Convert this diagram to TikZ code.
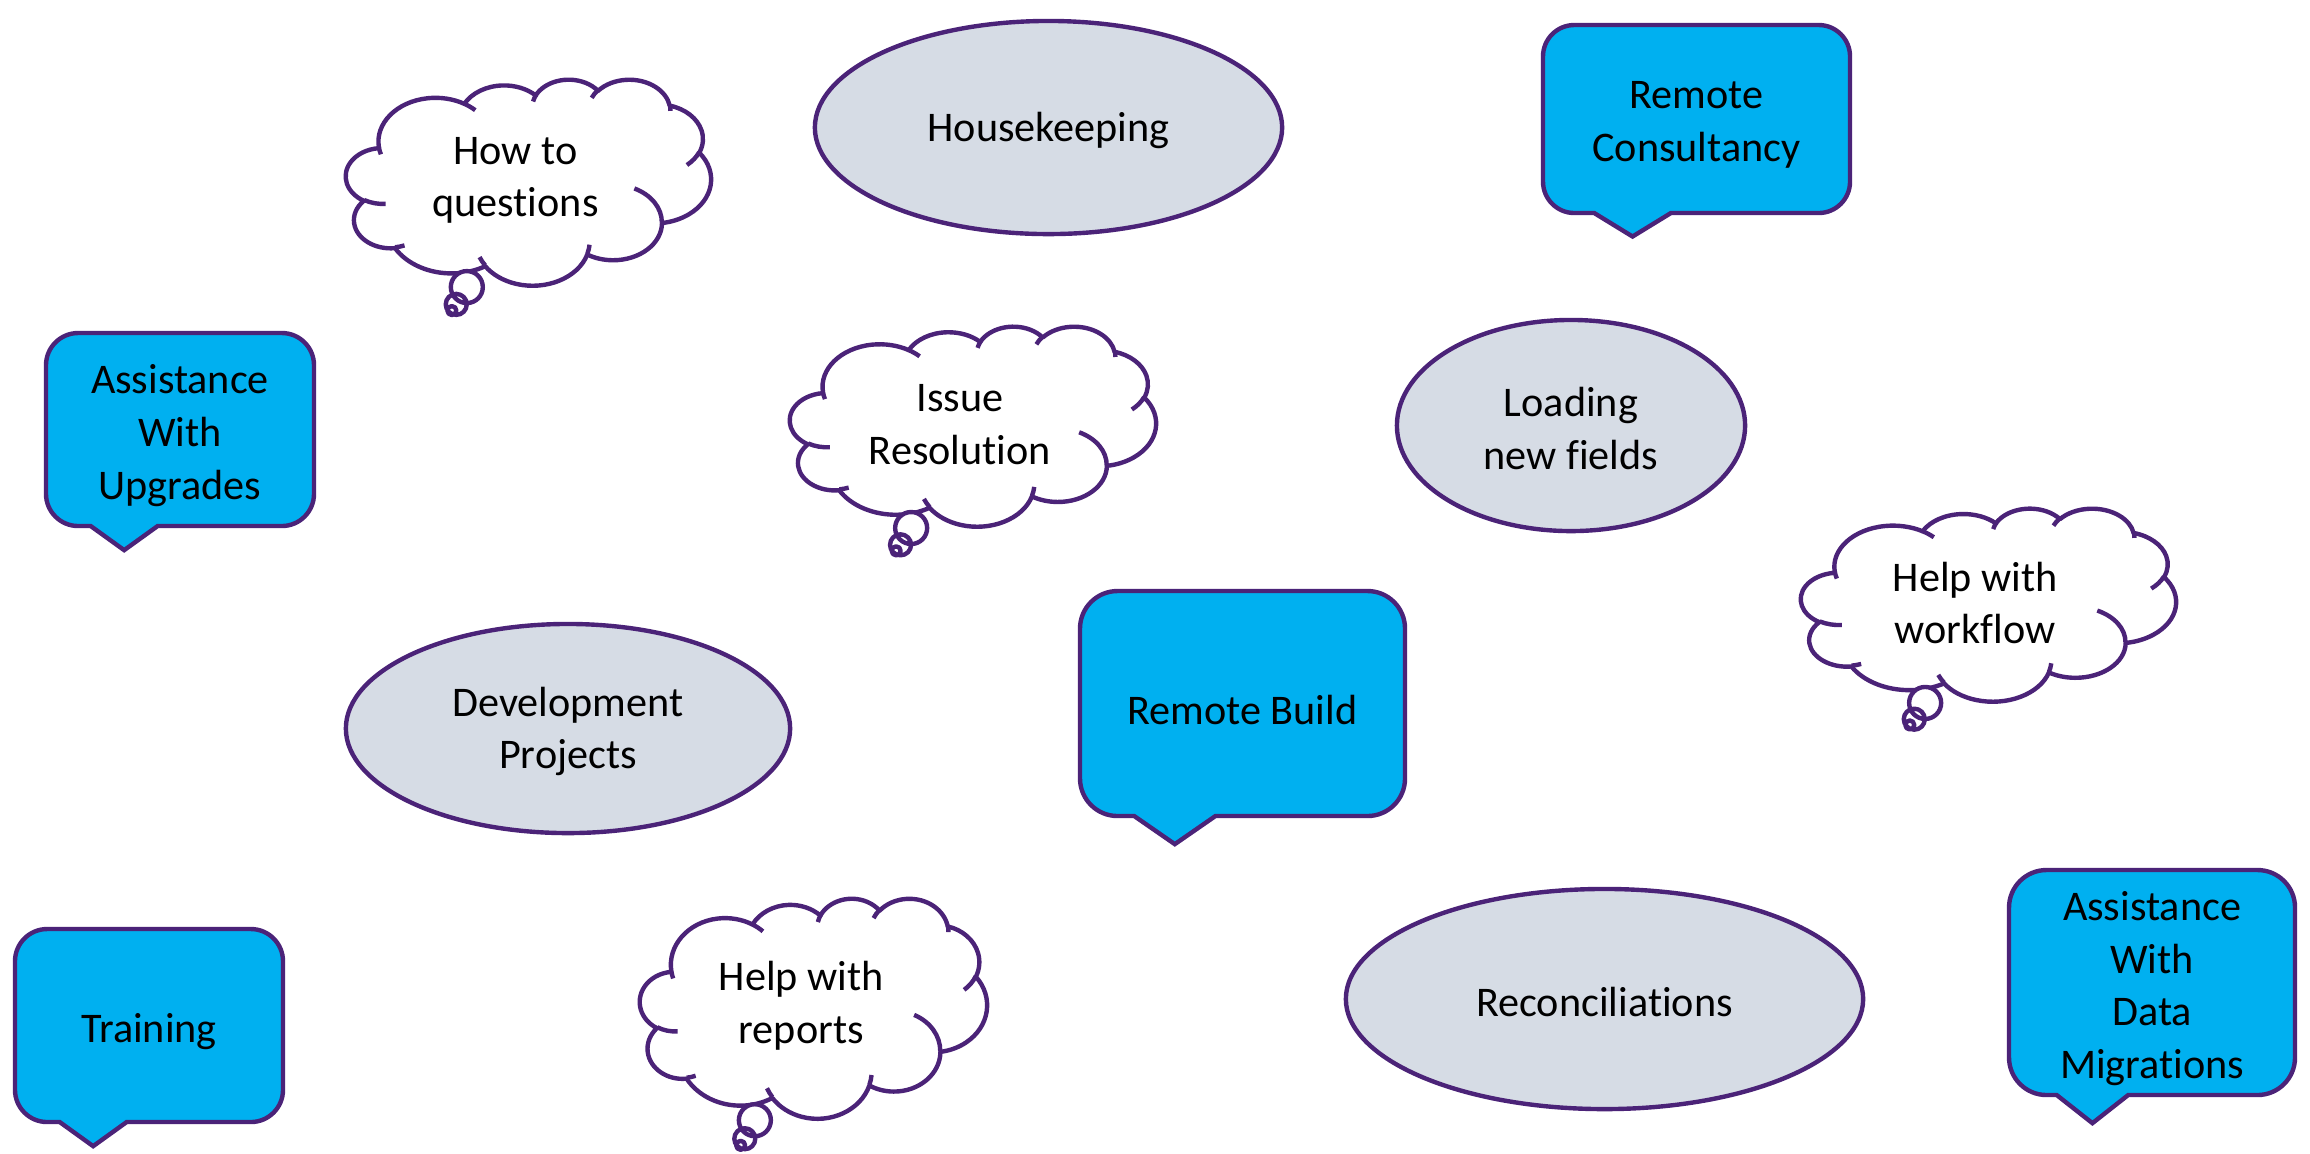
\documentclass[tikz,border=0pt]{standalone}
\usepackage{fontspec}
\setmainfont{Carlito}[Ligatures=NoCommon]
\usetikzlibrary{shapes.geometric}
\definecolor{edgecol}{RGB}{75,35,120}
\definecolor{callfill}{RGB}{0,176,240}
\definecolor{ellfill}{RGB}{214,220,229}
\makeatletter
\newcommand\addarc[5]{%
  \pgfmathsetmacro\cl@s{atan2(sin(#4)/(#3),cos(#4)/(#2))}%
  \pgfmathsetmacro\cl@t{atan2(sin(#4+#5)/(#3),cos(#4+#5)/(#2))}%
  \pgfmathsetmacro\cl@e{(#5>0)*(\cl@t+360*(\cl@t<\cl@s))+(#5<0)*(\cl@t-360*(\cl@t>\cl@s))}%
  \xdef#1{#1\space arc[start angle=\cl@s,end angle=\cl@e,x radius=#2,y radius=#3]}%
}
\makeatother
\newcommand\cloudpathA{}
\newcommand\cloudpathB{}
\xdef\cloudpathA{(0.39,1.437)}
\addarc\cloudpathA{0.6753}{0.9190}{-190.48748}{123.78053}
\addarc\cloudpathA{0.5333}{0.7267}{-144.10238}{89.94523}
\addarc\cloudpathA{0.4365}{0.5945}{-145.80792}{99.72302}
\addarc\cloudpathA{0.4857}{0.6595}{-130.98607}{117.24173}
\addarc\cloudpathA{0.5333}{0.7273}{-78.70888}{109.02692}
\addarc\cloudpathA{0.6775}{0.9220}{-46.26725}{130.269}
\addarc\cloudpathA{0.5785}{0.7867}{0.62502}{114.03333}
\addarc\cloudpathA{0.6752}{0.9215}{22.4516}{115.17255}
\addarc\cloudpathA{0.7720}{1.0543}{66.24263}{75.71102}
\addarc\cloudpathA{0.4360}{0.5918}{-274.94208}{146.73557}
\addarc\cloudpathA{0.4345}{0.5945}{-246.8285}{152.51885}
\xdef\cloudpathA{\cloudpathA\space -- cycle}
\xdef\cloudpathB{(0.4693,2.6177)}
\addarc\cloudpathB{0.4345}{0.5945}{86.742}{26.4295}
\xdef\cloudpathB{\cloudpathB\space (0.6928,3.4899)}
\addarc\cloudpathB{0.4360}{0.5918}{73.61047}{11.44747}
\xdef\cloudpathB{\cloudpathB\space (1.6478,3.9090)}
\addarc\cloudpathB{0.6752}{0.9215}{137.62415}{14.0811}
\xdef\cloudpathB{\cloudpathB\space (2.8827,3.4751)}
\addarc\cloudpathB{0.6752}{0.9215}{6.45327}{15.99835}
\xdef\cloudpathB{\cloudpathB\space (3.4129,2.2954)}
\addarc\cloudpathB{0.5785}{0.7867}{-70.29235}{70.91737}
\xdef\cloudpathB{\cloudpathB\space (4.1798,1.5354)}
\addarc\cloudpathB{0.5333}{0.7273}{30.31803}{27.7515}
\xdef\cloudpathB{\cloudpathB\space (3.8324,0.5426)}
\addarc\cloudpathB{0.4857}{0.6595}{-13.74433}{14.8589}
\xdef\cloudpathB{\cloudpathB\space (2.9078,0.3952)}
\addarc\cloudpathB{0.4857}{0.6595}{-149.18145}{18.19537}
\xdef\cloudpathB{\cloudpathB\space (2.2141,0.4720)}
\addarc\cloudpathB{0.4365}{0.5945}{-163.49427}{17.68635}
\xdef\cloudpathB{\cloudpathB\space (1.4000,0.5192)}
\addarc\cloudpathB{0.6753}{0.9190}{-66.70695}{12.31935}
\xdef\cloudpathB{\cloudpathB\space (0.4127,1.5789)}
\addarc\cloudpathB{0.6753}{0.9190}{157.65435}{11.85817}

\tikzset{
  txt/.style={font=\fontsize{12}{15}\selectfont, align=center, text=black, inner sep=0pt},
  edgeline/.style={draw=edgecol, line width=1.25pt},
  cloudline/.style={draw=edgecol, line width=1.25pt, line join=round},
  callbox/.style={edgeline, fill=callfill, line join=miter},
  ellnode/.style={ellipse, edgeline, fill=ellfill, inner sep=0pt, txt},
}

% #1 name, #2 x0, #3 y0, #4 W, #5 H, #6 text
\newcommand\mycloud[6]{%
  \begin{scope}[shift={(#2,#3)},xscale=#4/4.32,yscale=#5/4.32]
    \filldraw[cloudline,fill=white] \cloudpathA;
    \draw[cloudline] \cloudpathB;
  \end{scope}
  \fill[white] ({#2+0.331*#4},{#3+1.01*#5}) circle[radius=16]
               ({#2+0.302*#4},{#3+1.094*#5}) circle[radius=10.5]
               ({#2+0.29*#4},{#3+1.124*#5}) circle[radius=4.5];
  \draw[cloudline] ({#2+0.331*#4},{#3+1.01*#5}) circle[radius=16]
               ({#2+0.302*#4},{#3+1.094*#5}) circle[radius=10.5]
               ({#2+0.29*#4},{#3+1.124*#5}) circle[radius=4.5];
  \node[txt] (#1) at ({#2+0.4644*#4},{#3+0.4768*#5+3}) {#6};
}

% #1 name, #2 x0, #3 y0, #4 W, #5 H, #6 text
\newcommand\mycallout[6]{%
  \pgfmathsetmacro\crad{0.16667*min(#4,#5)}%
  \draw[callbox] ({#2+#4/6},{#3+#5}) -- ({#2+0.29167*#4},{#3+1.125*#5})
    -- ({#2+5*#4/12},{#3+#5}) -- ({#2+#4-\crad},{#3+#5})
    arc[start angle=90,end angle=0,radius=\crad] -- ({#2+#4},{#3+\crad})
    arc[start angle=0,end angle=-90,radius=\crad] -- ({#2+\crad},{#3})
    arc[start angle=-90,end angle=-180,radius=\crad] -- ({#2},{#3+#5-\crad})
    arc[start angle=180,end angle=90,radius=\crad] -- cycle;
  \node[txt] (#1) at ({#2+#4/2},{#3+#5/2+6}) {#6};
}

\begin{document}
\begin{tikzpicture}[x=0.01cm, y=-0.01cm]
\useasboundingbox (0,0) rectangle (2310,1153);
\fill[white] (0,0) rectangle (2310,1153);

% ellipses
\node[ellnode, minimum width=4.67cm, minimum height=2.13cm] (hk) at (1048.5,127.5) {};
\node[txt] (hkt) at (1048.5,130.5) {Housekeeping};
\node[ellnode, minimum width=3.48cm, minimum height=2.11cm] (load) at (1571,425.5) {};
\node[txt] (loadt) at (1571,428.5) {Loading\\new fields};
\node[ellnode, minimum width=4.44cm, minimum height=2.09cm] (dev) at (568,728.5) {};
\node[txt] (devt) at (568,731.5) {Development\\Projects};
\node[ellnode, minimum width=5.17cm, minimum height=2.20cm] (rec) at (1604.5,999) {};
\node[txt] (rect) at (1604.5,1002) {Reconciliations};

% callouts
\mycallout{upg}{46}{333}{268}{193}{Assistance\\With\\Upgrades}
\mycallout{cons}{1543}{25}{307}{188}{Remote\\Consultancy}
\mycallout{build}{1080}{591}{325}{225}{Remote Build}
\mycallout{mig}{2009}{870}{286}{225}{Assistance\\With\\Data\\Migrations}
\mycallout{train}{15}{929}{268}{193}{Training}

% clouds
\mycloud{how}{346}{79}{365}{206}{How to\\questions}
\mycloud{issue}{790}{326}{366}{200}{Issue\\Resolution}
\mycloud{wf}{1801}{508}{375}{193}{Help with\\workflow}
\mycloud{rep}{640}{898}{347}{220}{Help with\\reports}
\end{tikzpicture}
\end{document}
